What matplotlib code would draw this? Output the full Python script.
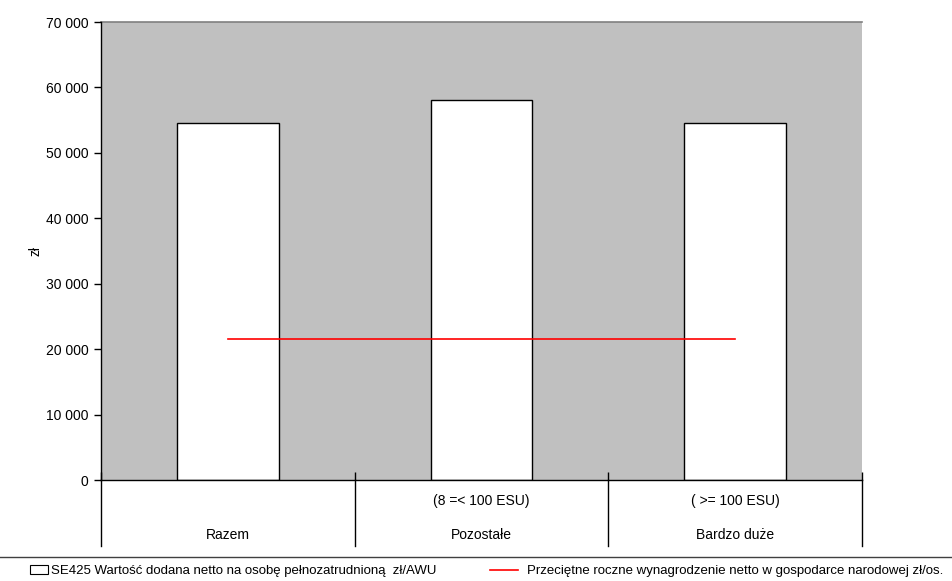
import matplotlib
matplotlib.use("Agg")
import matplotlib.pyplot as plt
from matplotlib.lines import Line2D
from matplotlib.patches import Patch
import numpy as np

plt.rcParams['font.family'] = ['Liberation Sans Narrow', 'Liberation Sans', 'DejaVu Sans']

categories = ["Razem", "Pozostałe", "Bardzo duże"]
sublabels = ["", "(8 =< 100 ESU)", "( >= 100 ESU)"]
values = [54600, 58100, 54600]
wage = [21550, 21550, 21550]
yticks = [0, 10000, 20000, 30000, 40000, 50000, 60000, 70000]
ytick_labels = ["0", "10 000", "20 000", "30 000", "40 000", "50 000", "60 000", "70 000"]
bar_label = "SE425 Wartość dodana netto na osobę pełnozatrudnioną  zł/AWU"
line_label = "Przeciętne roczne wynagrodzenie netto w gospodarce narodowej zł/os."

W, H = 952, 581
fig = plt.figure(figsize=(W/100, H/100), dpi=100)
ax = fig.add_axes([101/W, (H-480)/H, (862-101)/W, 458/H])
ax.set_facecolor('#c0c0c0')

x = np.arange(len(categories))
bars = ax.bar(x, values, width=0.4, color='white', edgecolor='black', linewidth=1, zorder=2)
line, = ax.plot(x, wage, color='#ff0000', linewidth=1.2, zorder=3)

ax.set_xlim(-0.5, len(categories) - 0.5)
ax.set_ylim(0, 70000)
ax.set_yticks(yticks)
ax.set_yticklabels(ytick_labels, fontsize=10)
ax.tick_params(axis='y', direction='out', length=5, width=1, pad=4)
ax.set_xticks(np.arange(len(categories) + 1) - 0.5)
ax.set_xticklabels([])
ax.tick_params(axis='x', direction='in', length=6, width=1)
ax.set_ylabel("zł", fontsize=10)
ax.yaxis.set_label_coords(-(101 - 43) / 761, 0.5)

for s in ['top', 'right']:
    ax.spines[s].set_visible(False)
ax.spines['left'].set_linewidth(1)
ax.spines['bottom'].set_linewidth(1)
ax.axhline(70000, color='#808080', linewidth=1.2, zorder=1, clip_on=False)

tr = ax.get_xaxis_transform()
for b in np.arange(len(categories) + 1) - 0.5:
    ax.plot([b, b], [0, -0.144], color='black', linewidth=1, transform=tr, clip_on=False)
for i, (c, s) in enumerate(zip(categories, sublabels)):
    ax.text(i, -0.120, c, transform=tr, ha='center', va='center', fontsize=10)
    if s:
        ax.text(i, -0.046, s, transform=tr, ha='center', va='center', fontsize=10)

fig.add_artist(Line2D([0, 1], [(H-557)/H, (H-557)/H], color='#404040', linewidth=1))

bar_handle = Patch(facecolor='white', edgecolor='black', linewidth=0.8)
line_handle = Line2D([0], [0], color='#ff0000', linewidth=1.2)
fig.legend([bar_handle], [bar_label], loc='center left',
           bbox_to_anchor=(30/W, (H-571)/H), frameon=False, fontsize=9.5,
           handlelength=1.4, handletextpad=0.2, borderpad=0, borderaxespad=0)
fig.legend([line_handle], [line_label], loc='center left',
           bbox_to_anchor=(490/W, (H-571)/H), frameon=False, fontsize=9.5,
           handlelength=2.1, handletextpad=0.7, borderpad=0, borderaxespad=0)

fig.savefig("out.png", dpi=100)
